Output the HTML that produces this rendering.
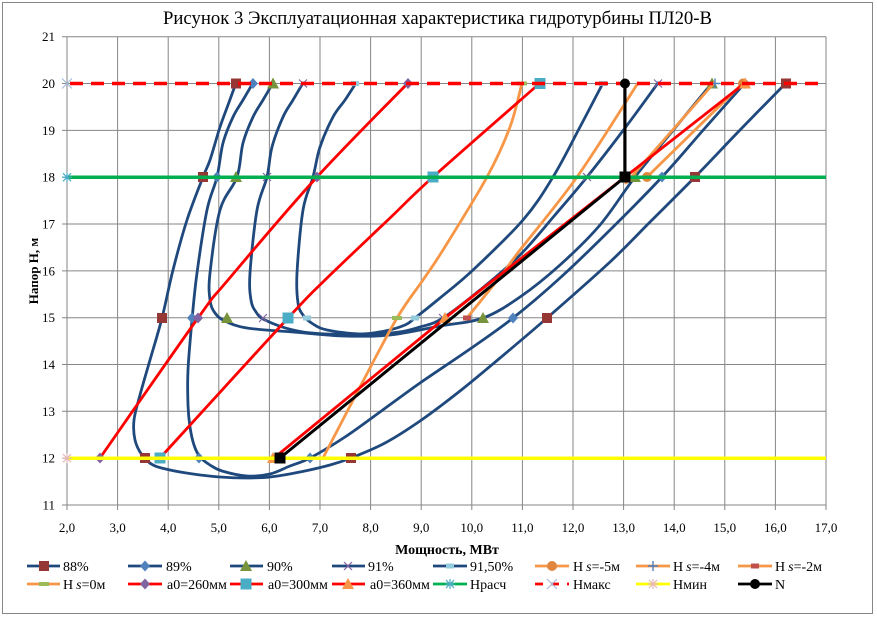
<!DOCTYPE html>
<html><head><meta charset="utf-8"><style>
html,body{margin:0;padding:0;background:#fff}
svg{display:block}
text{font-family:"Liberation Serif","Noto Serif CJK SC",serif;fill:#000}
</style></head><body>
<svg width="877" height="617" viewBox="0 0 877 617" xmlns="http://www.w3.org/2000/svg" font-family="'Liberation Serif', 'Noto Serif CJK SC', serif">
<defs>
<g id="sq88"><rect x="-5" y="-5" width="10" height="10" fill="#953735"/></g>
<g id="dia89"><polygon points="0,-5.5 5,0 0,5.5 -5,0" fill="#4F81BD"/></g>
<g id="tri90"><polygon points="0,-6 6,5 -6,5" fill="#77933C"/></g>
<g id="x91"><path d="M-4,-4L4,4M-4,4L4,-4" stroke="#8064A2" stroke-width="1.2"/></g>
<g id="d915"><rect x="-4" y="-2.5" width="8" height="5" fill="#93CDDD"/></g>
<g id="c5"><circle r="5" fill="#E0873D"/></g>
<g id="p4"><path d="M-5,0H5M0,-5V5" stroke="#4F81BD" stroke-width="1.4"/></g>
<g id="d2"><rect x="-4" y="-2.5" width="8" height="5" fill="#C0504D"/></g>
<g id="d0"><rect x="-5" y="-2" width="10" height="4" fill="#9BBB59"/></g>
<g id="dia260"><polygon points="0,-5.5 5,0 0,5.5 -5,0" fill="#8064A2"/></g>
<g id="sq300"><rect x="-5.5" y="-5.5" width="11" height="11" fill="#4BACC6"/></g>
<g id="tri360"><polygon points="0,-6 6,5 -6,5" fill="#F79646"/></g>
<g id="astR"><path d="M-5,0H5M0,-5V5M-4,-4L4,4M-4,4L4,-4" stroke="#4BACC6" stroke-width="1.2"/></g>
<g id="xMax"><path d="M-5,-5L5,5M-5,5L5,-5" stroke="#A6BDDB" stroke-width="1.2"/></g>
<g id="astMin"><path d="M-5,0H5M0,-5V5M-4,-4L4,4M-4,4L4,-4" stroke="#E6B9B8" stroke-width="1.2"/></g>
<g id="cN"><circle r="5" fill="#000"/></g>
<g id="sqN"><rect x="-5.5" y="-5.5" width="11" height="11" fill="#000"/></g>
</defs>

<rect x="2.5" y="2.5" width="870" height="611" fill="#fff" stroke="#868686" stroke-width="1"/>

<text x="163" y="24" font-size="19" textLength="549" lengthAdjust="spacingAndGlyphs">Рисунок 3 Эксплуатационная характеристика гидротурбины ПЛ20-В</text>

<g stroke="#868686" stroke-width="1" fill="none">
<path d="M67,36.7H826M67,83.5H826M67,130.4H826M67,177.2H826M67,224H826M67,270.9H826M67,317.7H826M67,364.5H826M67,411.3H826M67,458.2H826M67,505H826"/>
<path d="M67,36.7V505M117.6,36.7V505M168.2,36.7V505M218.8,36.7V505M269.4,36.7V505M320,36.7V505M370.6,36.7V505M421.2,36.7V505M471.8,36.7V505M522.4,36.7V505M573,36.7V505M623.6,36.7V505M674.2,36.7V505M724.8,36.7V505M775.4,36.7V505M826,36.7V505"/>
<path d="M62,36.7H67M62,83.5H67M62,130.4H67M62,177.2H67M62,224H67M62,270.9H67M62,317.7H67M62,364.5H67M62,411.3H67M62,458.2H67M62,505H67"/>
<path d="M67,505V510M117.6,505V510M168.2,505V510M218.8,505V510M269.4,505V510M320,505V510M370.6,505V510M421.2,505V510M471.8,505V510M522.4,505V510M573,505V510M623.6,505V510M674.2,505V510M724.8,505V510M775.4,505V510M826,505V510"/>
</g>

<g font-size="13" text-anchor="end">
<text x="55" y="41.2">21</text><text x="55" y="88">20</text><text x="55" y="134.9">19</text><text x="55" y="181.7">18</text><text x="55" y="228.5">17</text><text x="55" y="275.4">16</text><text x="55" y="322.2">15</text><text x="55" y="369">14</text><text x="55" y="415.8">13</text><text x="55" y="462.7">12</text><text x="55" y="509.5">11</text>
</g>
<g font-size="13" text-anchor="middle">
<text x="67" y="532">2,0</text><text x="117.6" y="532">3,0</text><text x="168.2" y="532">4,0</text><text x="218.8" y="532">5,0</text><text x="269.4" y="532">6,0</text><text x="320" y="532">7,0</text><text x="370.6" y="532">8,0</text><text x="421.2" y="532">9,0</text><text x="471.8" y="532">10,0</text><text x="522.4" y="532">11,0</text><text x="573" y="532">12,0</text><text x="623.6" y="532">13,0</text><text x="674.2" y="532">14,0</text><text x="724.8" y="532">15,0</text><text x="775.4" y="532">16,0</text><text x="826" y="532">17,0</text>
</g>

<text x="447" y="554" font-size="14" font-weight="bold" text-anchor="middle">Мощность, МВт</text>
<text transform="translate(38,271) rotate(-90)" font-size="13" font-weight="bold" text-anchor="middle">Напор Н, м</text>

<g fill="none" stroke="#1F497D" stroke-width="2.8" stroke-linejoin="round" stroke-linecap="round">
<polyline class="s" points="236,83 228,105 220,127 210,160 203,177 187,220 173,270 162,318 150,360 140,395 134,420 135,440 142,455 153,465 170,470 193,474 220,477 245,478 270,477 300,472 330,465 351,458 385,443 420,421 460,391 500,358 547,318 610,262 650,222 695,177 740,130 786,83"/>
<polyline class="s" points="253,83 243,100 233,117 223,143 217,177 207,210 197,273 192,320 188,370 188,405 190,427 194,445 200,457 210,465 222,471 247,476 270,474 290,466 310,458 345,437 380,412 420,383 470,349 513,318 560,278 610,230 662,177 705,128 745,83"/>
<polyline class="s" points="273,83 263,100 253,117 243,143 237,177 220,210 210,273 210,300 215,313 225,321 247,328 293,332 343,336 390,335 440,326 483,318 520,297 560,265 600,225 635,177 675,128 712,83"/>
<polyline class="s" points="303,83 293,100 283,117 272,147 267,177 257,210 250,273 251,300 256,312 265,320 293,330 327,334 390,333 420,327 443,318 480,290 520,255 555,215 587,177 625,128 658,83"/>
<polyline class="s" points="356,83 345,100 333,117 320,147 313,177 303,210 297,273 298,303 303,315 313,324 327,330 360,334 385,331 405,325 415,318 440,298 473,270 523,220 553,177 580,127 603,83"/>
</g>
<use href="#sq88" x="236" y="83.5"/><use href="#sq88" x="203" y="177"/><use href="#sq88" x="162" y="318"/><use href="#sq88" x="145" y="458"/><use href="#sq88" x="351" y="458"/><use href="#sq88" x="547" y="318"/><use href="#sq88" x="695" y="177"/><use href="#sq88" x="786" y="83.5"/>
<use href="#dia89" x="253" y="83.5"/><use href="#dia89" x="217" y="177"/><use href="#dia89" x="192" y="318"/><use href="#dia89" x="199" y="458"/><use href="#dia89" x="310" y="458"/><use href="#dia89" x="513" y="318"/><use href="#dia89" x="662" y="177"/><use href="#dia89" x="745" y="83.5"/>
<use href="#tri90" x="273" y="83.5"/><use href="#tri90" x="236" y="177"/><use href="#tri90" x="227" y="318"/><use href="#tri90" x="483" y="318"/><use href="#tri90" x="635" y="177"/><use href="#tri90" x="712" y="83.5"/>
<use href="#x91" x="303" y="83.5"/><use href="#x91" x="267" y="177"/><use href="#x91" x="263" y="318"/><use href="#x91" x="443" y="318"/><use href="#x91" x="587" y="177"/><use href="#x91" x="658" y="83.5"/>
<use href="#d915" x="355" y="83.5"/><use href="#d915" x="307" y="318"/><use href="#d915" x="415" y="318"/><use href="#d915" x="603" y="83.5"/>

<g fill="none" stroke="#F79646" stroke-width="2.8" stroke-linejoin="round" stroke-linecap="round">
<polyline points="647,177 743,83"/>
<polyline points="626,183 714,83"/>
<polyline class="s" points="467,318 503,273 520,250 577,177 638,83"/>
<polyline class="s" points="323,458 360,387 397,318 423,280 443,250 487,177 510,127 522,83"/>
</g>
<use href="#c5" x="647" y="177"/><use href="#c5" x="743" y="83.5"/>
<use href="#p4" x="715" y="83.5"/>
<use href="#d2" x="467" y="318"/>
<use href="#d0" x="397" y="318"/><use href="#d0" x="522" y="83.5"/>

<g fill="none" stroke="#FF0000" stroke-width="2.8" stroke-linejoin="round" stroke-linecap="round">
<polyline class="s" points="100,458 198,318 228,280 317,177 408,83"/>
<polyline class="s" points="160,458 288,318 325,280 390,218 433,177 540,83"/>
<polyline points="274,458 445,318 625,177 745,83"/>
</g>
<use href="#dia260" x="100" y="458"/><use href="#dia260" x="198" y="318"/><use href="#dia260" x="317" y="177"/><use href="#dia260" x="408" y="83.5"/>
<use href="#sq300" x="160" y="458"/><use href="#sq300" x="288" y="318"/><use href="#sq300" x="433" y="177"/><use href="#sq300" x="540" y="83.5"/>
<use href="#tri360" x="273" y="458"/><use href="#tri360" x="445" y="318"/><use href="#tri360" x="625" y="177"/><use href="#tri360" x="745" y="83.5"/>

<line x1="67" y1="177.2" x2="826" y2="177.2" stroke="#00B050" stroke-width="3.5"/>
<use href="#astR" x="67" y="177.2"/>
<line x1="70" y1="83.5" x2="826" y2="83.5" stroke="#FF0000" stroke-width="3.5" stroke-dasharray="13 8"/>
<use href="#xMax" x="67" y="83.5"/>
<line x1="67" y1="458.2" x2="826" y2="458.2" stroke="#FFFF00" stroke-width="3.5"/>
<use href="#astMin" x="67" y="458.2"/>

<polyline points="280,458 625,177 625,83" fill="none" stroke="#000" stroke-width="3" stroke-linejoin="round"/>
<use href="#sqN" x="280" y="458"/><use href="#sqN" x="625" y="177"/><use href="#cN" x="625" y="83.5"/>

<g font-size="14">
<line x1="27" y1="566" x2="60" y2="566" stroke="#1F497D" stroke-width="2.8"/><use href="#sq88" x="44" y="566"/><text x="63" y="571">88%</text>
<line x1="128" y1="566" x2="162" y2="566" stroke="#1F497D" stroke-width="2.8"/><use href="#dia89" x="145" y="566"/><text x="166" y="571">89%</text>
<line x1="230" y1="566" x2="263" y2="566" stroke="#1F497D" stroke-width="2.8"/><use href="#tri90" x="246" y="566"/><text x="267" y="571">90%</text>
<line x1="332" y1="566" x2="365" y2="566" stroke="#1F497D" stroke-width="2.8"/><use href="#x91" x="348" y="566"/><text x="368" y="571">91%</text>
<line x1="433" y1="566" x2="467" y2="566" stroke="#1F497D" stroke-width="2.8"/><use href="#d915" x="450" y="566"/><text x="470" y="571">91,50%</text>
<line x1="535" y1="566" x2="569" y2="566" stroke="#F79646" stroke-width="2.8"/><use href="#c5" x="552" y="566"/><text x="573" y="571">H<tspan dx="3" font-style="italic">s</tspan>=-5м</text>
<line x1="636" y1="566" x2="670" y2="566" stroke="#F79646" stroke-width="2.8"/><use href="#p4" x="653" y="566"/><text x="673" y="571">H<tspan dx="3" font-style="italic">s</tspan>=-4м</text>
<line x1="738" y1="566" x2="772" y2="566" stroke="#F79646" stroke-width="2.8"/><use href="#d2" x="755" y="566"/><text x="775" y="571">H<tspan dx="3" font-style="italic">s</tspan>=-2м</text>
<line x1="27" y1="584" x2="60" y2="584" stroke="#F79646" stroke-width="2.8"/><use href="#d0" x="44" y="584"/><text x="63" y="589">H<tspan dx="3" font-style="italic">s</tspan>=0м</text>
<line x1="128" y1="584" x2="162" y2="584" stroke="#FF0000" stroke-width="2.8"/><use href="#dia260" x="145" y="584"/><text x="167" y="589">a0=260мм</text>
<line x1="230" y1="584" x2="263" y2="584" stroke="#FF0000" stroke-width="2.8"/><use href="#sq300" x="246" y="584"/><text x="268" y="589">a0=300мм</text>
<line x1="332" y1="584" x2="365" y2="584" stroke="#FF0000" stroke-width="2.8"/><use href="#tri360" x="348" y="584"/><text x="370" y="589">a0=360мм</text>
<line x1="433" y1="584" x2="467" y2="584" stroke="#00B050" stroke-width="2.8"/><use href="#astR" x="450" y="584"/><text x="470" y="589">Hрасч</text>
<line x1="535" y1="584" x2="569" y2="584" stroke="#FF0000" stroke-width="2.8" stroke-dasharray="8 8"/><use href="#xMax" x="552" y="584"/><text x="573" y="589">Hмакс</text>
<line x1="636" y1="584" x2="670" y2="584" stroke="#FFFF00" stroke-width="2.8"/><use href="#astMin" x="653" y="584"/><text x="673" y="589">Hмин</text>
<line x1="738" y1="584" x2="772" y2="584" stroke="#000" stroke-width="2.8"/><use href="#cN" x="755" y="584"/><text x="775" y="589">N</text>
</g>
</svg>
<script>
(function(){
  var NS="http://www.w3.org/2000/svg";
  var pls=document.querySelectorAll("polyline.s");
  for(var k=0;k<pls.length;k++){
    var pl=pls[k];
    var raw=pl.getAttribute("points").trim().split(/\s+/);
    var p=raw.map(function(s){var a=s.split(",");return [parseFloat(a[0]),parseFloat(a[1])];});
    var d="M"+p[0][0]+","+p[0][1];
    for(var i=0;i<p.length-1;i++){
      var p0=p[i-1]||p[i],p1=p[i],p2=p[i+1],p3=p[i+2]||p[i+1];
      var c1x=p1[0]+(p2[0]-p0[0])/6,c1y=p1[1]+(p2[1]-p0[1])/6;
      var c2x=p2[0]-(p3[0]-p1[0])/6,c2y=p2[1]-(p3[1]-p1[1])/6;
      d+=" C"+c1x.toFixed(2)+","+c1y.toFixed(2)+" "+c2x.toFixed(2)+","+c2y.toFixed(2)+" "+p2[0]+","+p2[1];
    }
    var path=document.createElementNS(NS,"path");
    path.setAttribute("d",d);
    pl.parentNode.replaceChild(path,pl);
  }
})();
</script>
</body></html>
